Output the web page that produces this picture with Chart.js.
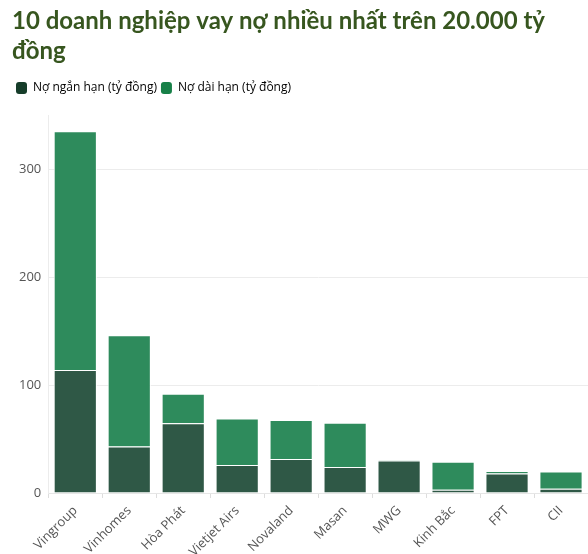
<!DOCTYPE html>
<html>
<head>
<meta charset="utf-8">
<script src="https://cdn.jsdelivr.net/npm/chart.js@4"></script>
<style>
    html, body { margin: 0; padding: 0; background: #fff; }
    #wrap { width: 588px; height: 554px; }
</style>
</head>
<body>
<div id="wrap"><canvas id="chart"></canvas></div>
<script>
var companies = ['Vingroup', 'Vinhomes', 'Hòa Phát', 'Vietjet Airs', 'Novaland', 'Masan', 'MWG', 'Kinh Bắc', 'FPT', 'CII'];
var shortTerm = [114, 43, 64.5, 26, 31.5, 24, 30, 3, 18, 4];
var longTerm = [221, 103, 27.5, 43, 36, 41, 0.5, 26, 2.3, 16];
var seriesNames = ['Nợ ngắn hạn (tỷ đồng)', 'Nợ dài hạn (tỷ đồng)'];
var yTicks = [0, 100, 200, 300];

var barColors = ['#2f5846', '#2e8b5c'];
var legendColors = ['#163d2a', '#178048'];

// a bit of space under the legend
var legendMargin = {
    id: 'legendMargin',
    beforeInit: function (chart) {
        var fit = chart.legend.fit;
        chart.legend.fit = function () {
            fit.bind(chart.legend)();
            this.height += 11;
        };
    }
};

var config = {
    type: 'bar',
    plugins: [legendMargin],
    data: {
        labels: companies,
        datasets: [{
            label: seriesNames[0],
            data: shortTerm,
            backgroundColor: barColors[0],
            borderColor: '#ffffff',
            borderWidth: 1
        }, {
            label: seriesNames[1],
            data: longTerm,
            backgroundColor: barColors[1],
            borderColor: '#ffffff',
            borderWidth: 1
        }]
    },
    options: {
        responsive: true,
        maintainAspectRatio: false,
        animation: false,
        layout: {
            padding: { left: 12, right: 0, top: 0, bottom: 0 }
        },
        datasets: {
            bar: { barPercentage: 0.8, categoryPercentage: 1 }
        },
        scales: {
            x: {
                stacked: true,
                afterFit: function (axis) { axis.height = 61; },
                grid: { display: true, drawOnChartArea: false, drawTicks: true, tickLength: 5, color: '#dddddd' },
                border: { color: '#e6e6e6' },
                ticks: {
                    color: '#555',
                    font: { family: 'Open Sans', size: 13 },
                    maxRotation: 45,
                    minRotation: 45,
                    padding: 5
                }
            },
            y: {
                stacked: true,
                min: 0,
                max: 350,
                afterBuildTicks: function (axis) {
                    axis.ticks = yTicks.map(function (v) { return { value: v }; });
                },
                grid: { color: '#ececec', drawTicks: false },
                border: { display: true, color: '#ececec' },
                ticks: {
                    color: '#555',
                    font: { family: 'Open Sans', size: 13 },
                    padding: 7
                }
            }
        },
        plugins: {
            title: {
                display: true,
                text: ['10 doanh nghiệp vay nợ nhiều nhất trên 20.000 tỷ', 'đồng'],
                align: 'start',
                color: '#37561f',
                font: { family: 'Lato', size: 24, weight: 'bold', lineHeight: 1.25 },
                padding: { top: 6, bottom: 12 }
            },
            legend: {
                align: 'start',
                labels: {
                    boxWidth: 11,
                    boxHeight: 12,
                    useBorderRadius: true,
                    borderRadius: 3,
                    color: '#333',
                    padding: 4,
                    font: { family: 'Open Sans', size: 12 },
                    generateLabels: function (chart) {
                        return chart.data.datasets.map(function (ds, i) {
                            return {
                                text: ds.label,
                                fillStyle: legendColors[i],
                                strokeStyle: legendColors[i],
                                lineWidth: 0,
                                datasetIndex: i,
                                borderRadius: 3
                            };
                        });
                    }
                }
            },
            tooltip: { enabled: false }
        }
    }
};

var ctx = document.getElementById('chart').getContext('2d');
new Chart(ctx, config);
</script>
</body>
</html>
